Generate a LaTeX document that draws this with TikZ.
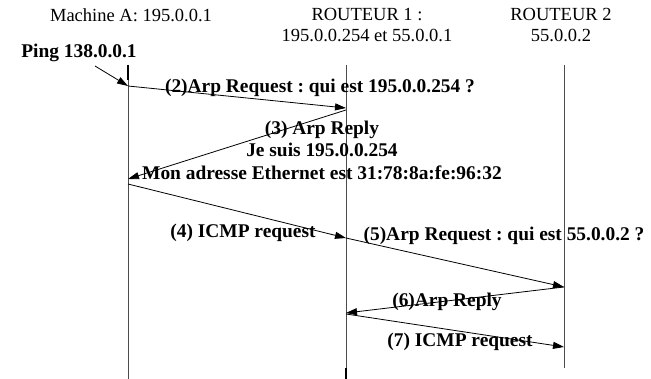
\documentclass[tikz,border=0pt]{standalone}
\usepackage{fontspec}
\setmainfont{Liberation Serif}
\usetikzlibrary{arrows.meta}
\begin{document}
\frenchspacing
\begin{tikzpicture}[x=1pt,y=-1pt,
  hdr/.style={font=\fontsize{18.5}{21}\selectfont, align=center, inner sep=0pt},
  lbl/.style={font=\fontsize{19.4}{22.5}\selectfont\bfseries, align=center, inner sep=0pt},
  life/.style={line width=1pt, black!70},
  msg/.style={line width=0.8pt, -{Triangle[length=11pt,width=7pt]}}]
\useasboundingbox (0,0) rectangle (651,379);

% headers
\node[hdr] (hA)  at (131,15) {Machine A: 195.0.0.1};
\node[hdr] (hR1) at (367,25) {ROUTEUR 1 :\\195.0.0.254 et 55.0.0.1};
\node[hdr] (hR2) at (561,25) {ROUTEUR 2\\55.0.0.2};

% lifelines
\coordinate (Atop) at (128,65);  \coordinate (Abot) at (128,379);
\coordinate (Rtop) at (346,65);  \coordinate (Rbot) at (346,379);
\coordinate (Stop) at (564,65);  \coordinate (Sbot) at (564,368);
\draw[life] (Atop) -- (Abot);
\draw[life] (Rtop) -- (Rbot);
\draw[life] (Stop) -- (Sbot);
\draw[line width=1.6pt] (128,65) -- (128,80);
\draw[line width=1.6pt] (346,368) -- (Rbot);

% message end points
\coordinate (a1) at (128,86);
\coordinate (r1) at (346,108);
\coordinate (r2) at (346,110);
\coordinate (a2) at (128,179);
\coordinate (a3) at (128,184);
\coordinate (r3) at (346,238);
\coordinate (s1) at (564,287);
\coordinate (r4) at (346,313);
\coordinate (r5) at (346,314);
\coordinate (s2) at (564,347);
\coordinate (p0) at (95,66);

% messages
\draw[msg] (p0) -- (a1);
\draw[msg] (a1) -- (r1);
\draw[msg] (r2) -- (a2);
\draw[msg] (a3) -- (r3);
\draw[msg] (r3) -- (s1);
\draw[msg] (s1) -- (r4);
\draw[msg] (r5) -- (s2);

% labels
\node[lbl] (ping) at (79,53) {Ping 138.0.0.1};
\node[lbl] (m2) at (320,88) {(2)Arp Request : qui est 195.0.0.254 ?};
\node[lbl] (m3) at (322,150) {(3) Arp Reply\\Je suis 195.0.0.254\\Mon adresse Ethernet est 31:78:8a:fe:96:32};
\node[lbl] (m4) at (243,233) {(4) ICMP request};
\node[lbl] (m5) at (504,236) {(5)Arp Request : qui est 55.0.0.2 ?};
\node[lbl] (m6) at (447,302) {(6)Arp Reply};
\node[lbl] (m7) at (460,342) {(7) ICMP request};
\end{tikzpicture}
\end{document}
